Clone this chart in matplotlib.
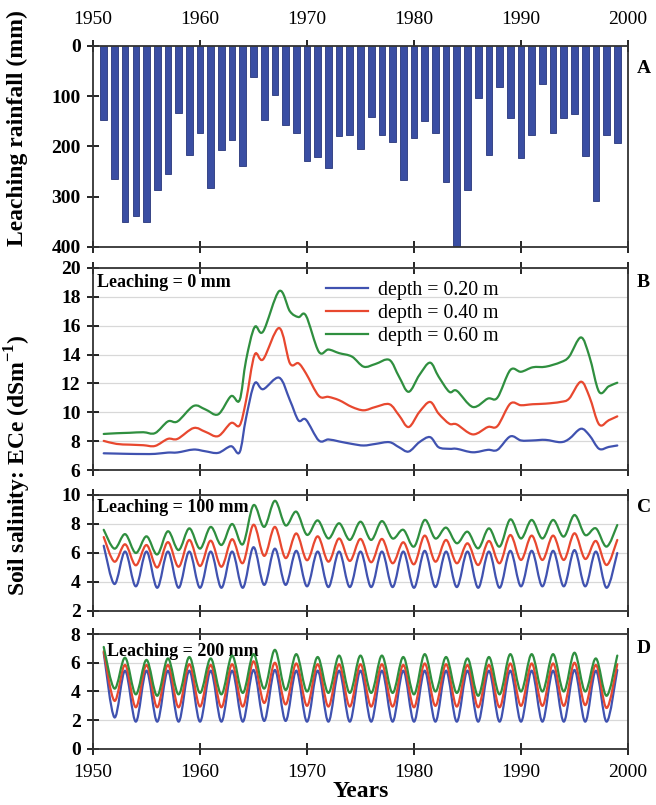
import matplotlib
matplotlib.use("Agg")
import matplotlib.pyplot as plt
import numpy as np
from matplotlib.path import Path
from matplotlib.patches import PathPatch
from matplotlib.lines import Line2D

plt.rcParams['font.family'] = ['Liberation Serif', 'DejaVu Serif']
plt.rcParams['mathtext.fontset'] = 'custom'
plt.rcParams['mathtext.rm'] = 'Liberation Serif'
plt.rcParams['mathtext.bf'] = 'Liberation Serif:bold'

# ---- panel A: leaching rainfall per year ----
bar_years = list(range(1951, 2000))
rain_mm = [148, 265, 350, 338, 351, 287, 255, 134, 217, 173,
           282, 208, 188, 238, 62, 148, 97, 157, 173, 229,
           220, 243, 180, 177, 205, 141, 177, 191, 267, 184,
           149, 173, 270, 399, 287, 104, 216, 81, 144, 223,
           177, 75, 173, 144, 135, 218, 309, 178, 194]

# ---- panel B: leaching = 0 mm ----
t_b = [1951.0, 1952.2, 1953.4, 1954.7, 1955.8, 1957.0, 1957.9, 1959.4, 1960.5, 1961.7,
       1962.9, 1963.7, 1964.3, 1965.1, 1965.9, 1967.4, 1968.4, 1969.2, 1969.9, 1971.1,
       1972.0, 1973.0, 1974.2, 1975.3, 1976.4, 1977.7, 1978.6, 1979.5, 1980.5, 1981.5,
       1982.3, 1983.3, 1984.0, 1985.5, 1986.9, 1987.8, 1989.0, 1990.0, 1991.1, 1992.3,
       1993.7, 1994.5, 1995.6, 1996.4, 1997.3, 1998.2, 1999.0]
b_020 = [7.16, 7.14, 7.12, 7.11, 7.12, 7.21, 7.22, 7.42, 7.30, 7.19,
         7.65, 7.23, 9.6, 12.0, 11.6, 12.4, 10.84, 9.44, 9.49, 8.05,
         8.12, 7.98, 7.81, 7.70, 7.81, 7.93, 7.58, 7.28, 7.93, 8.28,
         7.58, 7.47, 7.47, 7.23, 7.40, 7.40, 8.33, 8.05, 8.05, 8.09,
         7.93, 8.16, 8.86, 8.40, 7.47, 7.6, 7.70]
b_040 = [8.02, 7.81, 7.76, 7.72, 7.67, 8.16, 8.16, 8.91, 8.65, 8.35,
         9.26, 9.09, 10.8, 13.98, 13.67, 15.84, 13.4, 13.4, 12.7, 11.14,
         11.07, 10.84, 10.37, 10.14, 10.37, 10.56, 9.79, 8.98, 10.02, 10.72,
         9.91, 9.21, 9.16, 8.47, 8.98, 9.05, 10.6, 10.49, 10.56, 10.6,
         10.72, 10.95, 12.12, 11.07, 9.16, 9.45, 9.72]
b_060 = [8.5, 8.55, 8.58, 8.62, 8.56, 9.37, 9.37, 10.44, 10.2, 9.86,
         11.12, 10.84, 13.6, 15.9, 15.6, 18.4, 17.0, 16.6, 16.7, 14.2,
         14.35, 14.1, 13.86, 13.16, 13.35, 13.63, 12.47, 11.42, 12.58, 13.44,
         12.47, 11.42, 11.49, 10.37, 10.95, 11.02, 12.93, 12.81, 13.12, 13.16,
         13.47, 13.86, 15.19, 13.86, 11.42, 11.8, 12.05]

# ---- panels C and D: yearly peaks (odd years) and troughs (even years) ----
t_cd = list(range(1951, 2000))
c_020 = [6.5, 3.86, 6.1, 3.7, 6.1, 3.6, 6.1, 3.6, 6.1, 3.6,
         6.1, 3.6, 6.1, 3.6, 6.4, 3.8, 6.3, 3.8, 6.15, 3.7,
         6.1, 3.65, 6.1, 3.65, 6.1, 3.65, 6.1, 3.65, 6.1, 3.6,
         6.15, 3.65, 6.1, 3.65, 6.1, 3.6, 6.1, 3.6, 6.15, 3.7,
         6.15, 3.7, 6.15, 3.7, 6.2, 3.7, 6.1, 3.6, 6.0]
c_040 = [7.1, 5.4, 6.6, 5.15, 6.55, 5.0, 6.75, 5.05, 6.9, 5.1,
         6.85, 5.05, 6.95, 5.3, 7.95, 5.8, 7.8, 5.65, 7.35, 5.5,
         7.15, 5.4, 7.0, 5.45, 6.97, 5.36, 6.97, 5.29, 6.74, 5.22,
         7.2, 5.4, 6.9, 5.29, 6.67, 5.17, 6.83, 5.29, 7.24, 5.52,
         7.2, 5.52, 7.2, 5.52, 7.36, 5.59, 6.83, 5.17, 6.9]
c_060 = [7.6, 6.3, 7.3, 6.0, 7.15, 5.9, 7.5, 6.2, 7.7, 6.3,
         7.8, 6.55, 8.0, 6.6, 9.3, 7.8, 9.6, 7.9, 8.85, 7.25,
         8.25, 7.0, 8.05, 6.9, 8.16, 6.9, 8.2, 7.0, 7.6, 6.44,
         8.28, 7.0, 7.75, 6.67, 7.47, 6.32, 7.7, 6.44, 8.32, 7.0,
         8.28, 7.0, 8.28, 7.13, 8.62, 7.24, 7.7, 6.44, 7.93]

d_020 = [6.7, 2.2, 5.45, 1.9, 5.45, 1.9, 5.45, 1.9, 5.45, 1.9,
         5.45, 1.9, 5.45, 1.9, 5.5, 1.95, 5.5, 1.95, 5.45, 1.9,
         5.45, 1.9, 5.45, 1.9, 5.45, 1.9, 5.45, 1.9, 5.45, 1.9,
         5.45, 1.9, 5.45, 1.9, 5.45, 1.9, 5.45, 1.9, 5.45, 1.9,
         5.45, 1.9, 5.45, 1.9, 5.5, 1.9, 5.45, 1.9, 5.5]
d_040 = [6.8, 3.35, 5.85, 2.9, 5.85, 2.9, 5.85, 2.9, 5.9, 2.95,
         5.85, 2.9, 5.9, 2.95, 6.1, 3.2, 6.0, 3.1, 5.95, 3.0,
         5.9, 2.95, 5.9, 2.95, 5.9, 2.95, 5.9, 2.95, 5.85, 2.9,
         5.95, 3.0, 5.9, 2.95, 5.85, 2.9, 5.85, 2.9, 5.95, 3.0,
         5.95, 3.0, 5.95, 3.0, 6.0, 3.05, 5.85, 2.85, 5.9]
d_060 = [7.1, 4.2, 6.35, 3.8, 6.2, 3.7, 6.3, 3.8, 6.4, 3.9,
         6.3, 3.8, 6.5, 3.9, 6.6, 4.2, 6.9, 4.1, 6.6, 4.0,
         6.4, 3.9, 6.5, 3.9, 6.5, 3.9, 6.5, 3.9, 6.4, 3.8,
         6.6, 4.0, 6.4, 3.9, 6.3, 3.7, 6.4, 3.8, 6.6, 4.0,
         6.6, 4.0, 6.6, 4.0, 6.7, 4.0, 6.3, 3.7, 6.5]

depth_labels = ['depth = 0.20 m', 'depth = 0.40 m', 'depth = 0.60 m']
colors = ['#4052b0', '#e8482f', '#2f8f3f']


def smooth_line(ax, x, y, color):
    # Excel-style smoothed line: Catmull-Rom segments drawn as cubic Beziers
    p = np.column_stack([x, y]).astype(float)
    n = len(p)
    verts = [p[0]]
    codes = [Path.MOVETO]
    for i in range(n - 1):
        p0 = p[max(i - 1, 0)]
        p1 = p[i]
        p2 = p[i + 1]
        p3 = p[min(i + 2, n - 1)]
        verts += [p1 + (p2 - p0) / 6.0, p2 - (p3 - p1) / 6.0, p2]
        codes += [Path.CURVE4] * 3
    ax.add_patch(PathPatch(Path(verts, codes), facecolor='none', edgecolor=color,
                           lw=1.6, capstyle='round', joinstyle='round', zorder=3))


fig = plt.figure(figsize=(6.56, 8.05), dpi=100)
L, W = 0.1418, 0.8155
axA = fig.add_axes([L, 0.6932, W, 0.2497])
axB = fig.add_axes([L, 0.4161, W, 0.2510])
axC = fig.add_axes([L, 0.2410, W, 0.1441])
axD = fig.add_axes([L, 0.0696, W, 0.1428])

axA.bar(bar_years, rain_mm, width=0.62, color='#3a4ea3', edgecolor='#27367a', lw=0.6, zorder=2)
axA.set_ylim(400, 0)
axA.set_yticks(np.arange(0, 401, 100))

for ax, t, series, ylim in [(axB, t_b, [b_020, b_040, b_060], (6, 20)),
                            (axC, t_cd, [c_020, c_040, c_060], (2, 10)),
                            (axD, t_cd, [d_020, d_040, d_060], (0, 8))]:
    for s, c in zip(series, colors):
        smooth_line(ax, t, s, c)
    ax.set_ylim(*ylim)
    ax.set_yticks(np.arange(ylim[0], ylim[1] + 0.1, 2))
    ax.grid(axis='y', color='#d8d8d8', lw=0.9, zorder=0)

for ax in [axA, axB, axC, axD]:
    ax.set_xlim(1950, 2000)
    ax.set_xticks(np.arange(1950, 2001, 10))
    ax.set_axisbelow(True)
    ax.tick_params(axis='x', direction='inout', length=8, width=1.2, top=True,
                   labeltop=False, labelbottom=False, labelsize=14, pad=3)
    ax.tick_params(axis='y', direction='inout', length=8, width=1.2, labelsize=14, pad=5)
    for lab in ax.get_yticklabels():
        lab.set_fontweight('bold')
    for sp in ax.spines.values():
        sp.set_linewidth(1.3)
        sp.set_color('#333333')

axA.tick_params(axis='x', labeltop=True, pad=9)
axD.tick_params(axis='x', labelbottom=True, pad=7)
axD.set_xlabel('Years', fontsize=17, fontweight='bold', labelpad=0)

for ax, letter, yy in [(axA, 'A', 0.89), (axB, 'B', 0.926), (axC, 'C', 0.888), (axD, 'D', 0.87)]:
    ax.text(1.016, yy, letter, transform=ax.transAxes, fontsize=14, fontweight='bold',
            ha='left', va='center')

axB.text(0.008, 0.926, 'Leaching = 0 mm', transform=axB.transAxes, fontsize=13,
         fontweight='bold', ha='left', va='center')
axC.text(0.008, 0.888, 'Leaching = 100 mm', transform=axC.transAxes, fontsize=13,
         fontweight='bold', ha='left', va='center', zorder=1)
axD.text(0.026, 0.85, 'Leaching = 200 mm', transform=axD.transAxes, fontsize=13,
         fontweight='bold', ha='left', va='center', zorder=1)

handles = [Line2D([], [], color=c, lw=1.6) for c in colors]
axB.legend(handles, depth_labels, loc='upper left', bbox_to_anchor=(0.42, 0.975),
           frameon=False, fontsize=14.3, handlelength=2.15, handletextpad=0.5,
           labelspacing=0.19, borderaxespad=0)

fig.text(0.027, 0.841, 'Leaching rainfall (mm)', rotation=90, fontsize=17,
         fontweight='bold', ha='center', va='center')
fig.text(0.027, 0.422, r'Soil salinity: ECe (dSm$^{\mathbf{-1}}$)', rotation=90, fontsize=17,
         fontweight='bold', ha='center', va='center')

fig.savefig('out.png', dpi=100, facecolor='white')
